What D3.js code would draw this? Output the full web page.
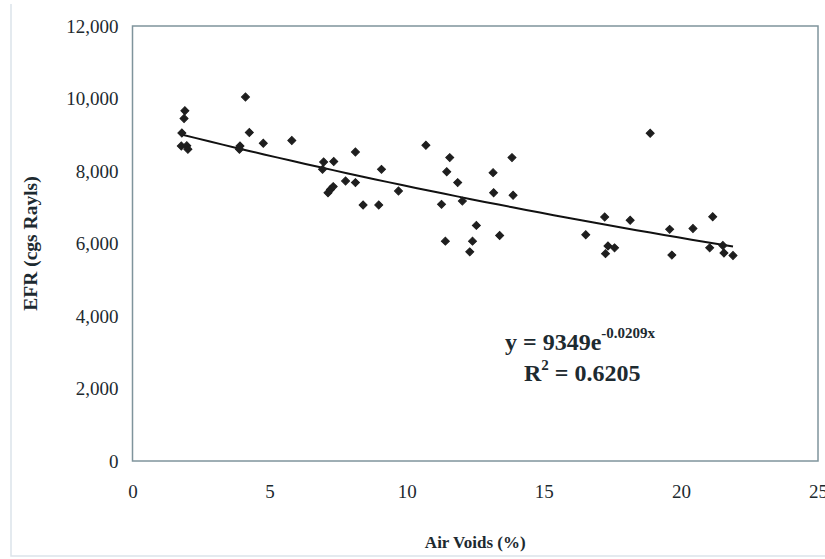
<!DOCTYPE html>
<html>
<head>
<meta charset="utf-8">
<script src="https://cdn.jsdelivr.net/npm/d3@7"></script>
<style>
  html, body { margin: 0; padding: 0; background: #fff; }
  svg { display: block; }
  text { font-family: "Liberation Serif", "Times New Roman", serif; fill: #1d2a30; }
</style>
</head>
<body>
<svg id="chart" width="825" height="559"></svg>
<script>
// Air voids (%) of each specimen
const airVoids = [
  1.91, 1.88, 1.80, 1.78, 1.98, 2.02,
  3.92, 3.90, 4.12, 4.26, 4.77, 5.81,
  6.93, 6.97, 7.34, 7.13, 7.22, 7.32, 7.77, 8.13, 8.13,
  8.41, 8.98, 9.08, 9.70, 10.70,
  11.27, 11.41, 11.46, 11.57, 11.86, 12.03, 12.30, 12.40, 12.54,
  13.15, 13.17, 13.39, 13.84, 13.88,
  16.53, 17.22, 17.25, 17.34, 17.58, 18.15, 18.88,
  19.59, 19.67, 20.44, 21.05, 21.16, 21.53, 21.57, 21.90
];
// Effective flow resistivity (cgs Rayls), same order
const efr = [
  9660, 9450, 9050, 8690, 8700, 8600,
  8690, 8600, 10040, 9060, 8765, 8840,
  8045, 8250, 8260, 7400, 7490, 7570, 7725, 7680, 8525,
  7060, 7060, 8045, 7450, 8710,
  7080, 6065, 7980, 8370, 7680, 7170, 5770, 6065, 6500,
  7955, 7400, 6220, 8370, 7330,
  6240, 6730, 5720, 5930, 5880, 6640, 9040,
  6390, 5680, 6415, 5880, 6740, 5945, 5740, 5670
];

// Axis ticks
const xTicks = [0, 5, 10, 15, 20, 25];
const yTicks = [0, 2000, 4000, 6000, 8000, 10000, 12000];

// Exponential fit y = a * e^(b x)
const fitA = 9349;
const fitB = -0.0209;
const fitR2 = 0.6205;

const svg = d3.select("#chart");
const plot = { left: 132.5, right: 818, top: 26, bottom: 461 };

const x = d3.scaleLinear().domain([0, 25]).range([plot.left, plot.right]);
const y = d3.scaleLinear().domain([0, 12000]).range([plot.bottom, plot.top]);

// Faint outer chart frame
svg.append("path")
  .attr("d", `M11,4 V556 H825`)
  .attr("fill", "none")
  .attr("stroke", "#dbe4ea")
  .attr("stroke-width", 1.5);

// Plot area border
svg.append("rect")
  .attr("x", plot.left).attr("y", plot.top)
  .attr("width", plot.right - plot.left)
  .attr("height", plot.bottom - plot.top)
  .attr("fill", "none")
  .attr("stroke", "#7f949c")
  .attr("stroke-width", 1.5);

// Y axis labels
const yAxis = d3.axisLeft(y)
  .tickValues(yTicks)
  .tickSize(0)
  .tickPadding(14)
  .tickFormat(d3.format(","));
const gy = svg.append("g").attr("transform", `translate(${plot.left},0)`).call(yAxis);
gy.select(".domain").remove();
gy.selectAll("text")
  .attr("font-family", "Liberation Serif, serif")
  .attr("font-size", 19)
  .attr("fill", "#1d2a30");

// X axis labels
const xAxis = d3.axisBottom(x)
  .tickValues(xTicks)
  .tickSize(0)
  .tickPadding(24)
  .tickFormat(d3.format("d"));
const gx = svg.append("g").attr("transform", `translate(0,${plot.bottom})`).call(xAxis);
gx.select(".domain").remove();
gx.selectAll("text")
  .attr("font-family", "Liberation Serif, serif")
  .attr("font-size", 19)
  .attr("fill", "#1d2a30");

// Axis titles
svg.append("text")
  .attr("x", (plot.left + plot.right) / 2)
  .attr("y", 548)
  .attr("text-anchor", "middle")
  .attr("font-weight", "bold")
  .attr("font-size", 17)
  .text("Air Voids (%)");

svg.append("text")
  .attr("transform", `translate(37,${(plot.top + plot.bottom) / 2}) rotate(-90)`)
  .attr("text-anchor", "middle")
  .attr("font-weight", "bold")
  .attr("font-size", 19.5)
  .text("EFR (cgs Rayls)");

// Trend line across the range of the data
const xExt = d3.extent(airVoids);
const fitPts = d3.range(0, 41).map(i => {
  const xv = xExt[0] + (xExt[1] - xExt[0]) * i / 40;
  return [xv, fitA * Math.exp(fitB * xv)];
});
svg.append("path")
  .datum(fitPts)
  .attr("fill", "none")
  .attr("stroke", "#111")
  .attr("stroke-width", 2)
  .attr("d", d3.line().x(d => x(d[0])).y(d => y(d[1])));

// Data markers: squares turned 45° to form even diamonds
svg.append("g").selectAll("path")
  .data(airVoids.map((v, i) => [v, efr[i]]))
  .join("path")
  .attr("transform", d => `translate(${x(d[0])},${y(d[1])}) rotate(45)`)
  .attr("d", d3.symbol().type(d3.symbolSquare).size(32))
  .attr("fill", "#1e1e1e")
  .attr("stroke", "#1e1e1e")
  .attr("stroke-width", 1);

// Fit equation and R²
const eq = svg.append("text")
  .attr("x", 505).attr("y", 350)
  .attr("font-weight", "bold")
  .attr("font-size", 24);
eq.append("tspan").text(`y = ${fitA}e`);
eq.append("tspan")
  .attr("dy", -12)
  .attr("font-size", 15)
  .text(`${fitB}x`);

const r2 = svg.append("text")
  .attr("x", 524).attr("y", 381)
  .attr("font-weight", "bold")
  .attr("font-size", 24);
r2.append("tspan").text("R");
r2.append("tspan").attr("dy", -11).attr("font-size", 15).text("2");
r2.append("tspan").attr("dy", 11).text(` = ${fitR2}`);
</script>
</body>
</html>
